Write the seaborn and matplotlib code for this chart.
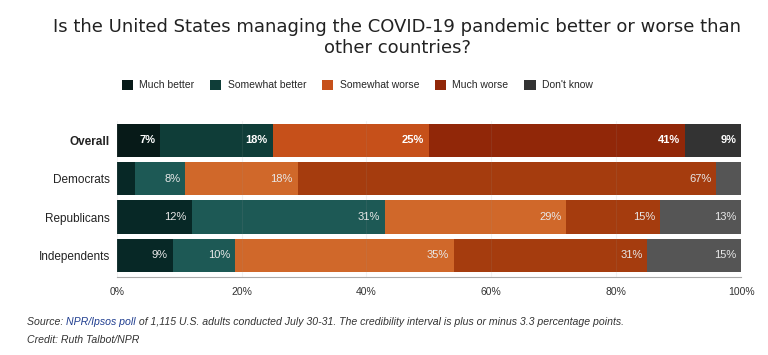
import numpy as np
import pandas as pd
import matplotlib
matplotlib.use("Agg")
import matplotlib.pyplot as plt
from matplotlib.patches import Patch
import seaborn as sns

# survey data (percent)
groups = ['Overall', 'Democrats', 'Republicans', 'Independents']
answers = ['Much better', 'Somewhat better', 'Somewhat worse', 'Much worse', "Don't know"]
much_better = [7, 3, 12, 9]
somewhat_better = [18, 8, 31, 10]
somewhat_worse = [25, 18, 29, 35]
much_worse = [41, 67, 15, 31]
dont_know = [9, 4, 13, 15]
show_label = [[True, True, True, True, True],
              [False, True, True, True, False],
              [True, True, True, True, True],
              [True, True, True, True, True]]

# overall row drawn darker than the party rows
dark_cols = ['#071a18', '#0f3d38', '#c6501a', '#912708', '#333333']
light_cols = ['#072826', '#1d5955', '#d0682a', '#a53c0e', '#555555']

values = np.array([much_better, somewhat_better, somewhat_worse, much_worse, dont_know], dtype=float)
cum = values.cumsum(axis=0)

sns.set_style('white')
plt.rcParams['font.family'] = ['Liberation Sans', 'DejaVu Sans']

fig = plt.figure(figsize=(7.68, 3.55), dpi=100)
ax = fig.add_axes([0.152, 0.22, 0.813, 0.439])

# draw stacked bars from the outer cumulative segment inward
for k in range(len(answers) - 1, -1, -1):
    df = pd.DataFrame({'group': groups, 'end': cum[k]})
    pal = {g: (dark_cols[k] if g == 'Overall' else light_cols[k]) for g in groups}
    sns.barplot(data=df, x='end', y='group', hue='group', palette=pal, order=groups,
                legend=False, width=0.87, saturation=1, ax=ax, linewidth=0)

# value labels at the right end of each segment
for i, g in enumerate(groups):
    for k in range(len(answers)):
        if not show_label[i][k]:
            continue
        txt = f'{int(values[k, i])}%'
        if g == 'Overall':
            ax.text(cum[k, i] - 0.8, i, txt, ha='right', va='center', fontsize=8,
                    color='white', fontweight='bold')
        else:
            ax.text(cum[k, i] - 0.8, i, txt, ha='right', va='center', fontsize=8,
                    color='#e8e8e8')

ax.set_xlim(0, 100)
ax.set_ylim(3.56, -0.5)
ax.set_xticks([0, 20, 40, 60, 80, 100])
ax.set_xticklabels(['0%', '20%', '40%', '60%', '80%', '100%'], fontsize=7.5, color='#333333')
ax.grid(axis='x', color='#999999', alpha=0.12, linewidth=0.8, zorder=5)
ax.set_axisbelow(False)
ax.set_xlabel('')
ax.set_ylabel('')
for s in ['top', 'right', 'left']:
    ax.spines[s].set_visible(False)
ax.spines['bottom'].set_color('#aaaaaa')
ax.tick_params(axis='x', length=4, color='#aaaaaa', pad=3)
ax.tick_params(axis='y', length=0, pad=5)
for lbl in ax.get_yticklabels():
    lbl.set_fontsize(8.5)
    lbl.set_color('#222222')
    if lbl.get_text() == 'Overall':
        lbl.set_fontweight('bold')

fig.text(0.517, 0.895, 'Is the United States managing the COVID-19 pandemic better or worse than\nother countries?',
         ha='center', va='center', fontsize=13, color='#222222', family='DejaVu Sans', linespacing=1.25)

handles = [Patch(facecolor=c, edgecolor='none') for c in dark_cols]
fig.legend(handles, answers, loc='center', bbox_to_anchor=(0.465, 0.76), ncol=5, frameon=False,
           fontsize=7.5, handlelength=1.1, handleheight=1.1, columnspacing=1.5, handletextpad=0.6)

# source line, with the poll name in blue
fig.canvas.draw()
r = fig.canvas.get_renderer()
x0 = 27 / 768
y0 = 1 - 322 / 355
parts = [('Source: ', '#333333'), ('NPR/Ipsos poll', '#1f3d8f'),
         (' of 1,115 U.S. adults conducted July 30-31. The credibility interval is plus or minus 3.3 percentage points.', '#333333')]
for s, c in parts:
    t = fig.text(x0, y0, s, fontsize=7.6, style='italic', color=c, va='center', ha='left')
    bb = t.get_window_extent(renderer=r)
    x0 += bb.width / fig.bbox.width
fig.text(27 / 768, 1 - 340 / 355, 'Credit: Ruth Talbot/NPR', fontsize=7.6, style='italic', color='#333333', va='center')

fig.savefig('out.png', dpi=100)
